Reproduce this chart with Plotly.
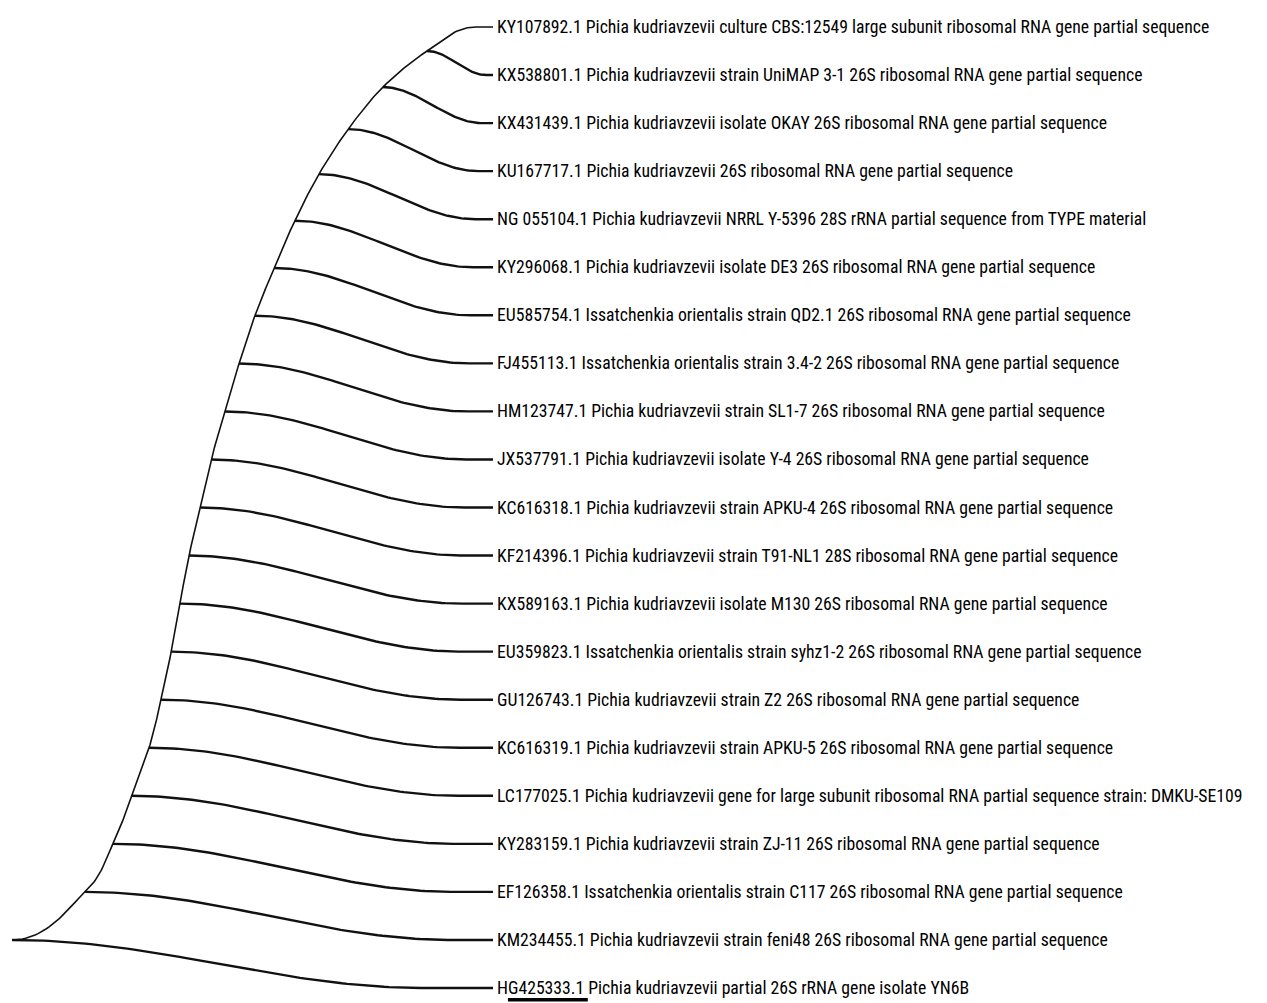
import numpy as np
import plotly.graph_objects as go

# ---- data -------------------------------------------------------------
# leaf labels, top to bottom
leaf_labels = [
    "KY107892.1 Pichia kudriavzevii culture CBS:12549 large subunit ribosomal RNA gene partial sequence",
    "KX538801.1 Pichia kudriavzevii strain UniMAP 3-1 26S ribosomal RNA gene partial sequence",
    "KX431439.1 Pichia kudriavzevii isolate OKAY 26S ribosomal RNA gene partial sequence",
    "KU167717.1 Pichia kudriavzevii 26S ribosomal RNA gene partial sequence",
    "NG 055104.1 Pichia kudriavzevii NRRL Y-5396 28S rRNA partial sequence from TYPE material",
    "KY296068.1 Pichia kudriavzevii isolate DE3 26S ribosomal RNA gene partial sequence",
    "EU585754.1 Issatchenkia orientalis strain QD2.1 26S ribosomal RNA gene partial sequence",
    "FJ455113.1 Issatchenkia orientalis strain 3.4-2 26S ribosomal RNA gene partial sequence",
    "HM123747.1 Pichia kudriavzevii strain SL1-7 26S ribosomal RNA gene partial sequence",
    "JX537791.1 Pichia kudriavzevii isolate Y-4 26S ribosomal RNA gene partial sequence",
    "KC616318.1 Pichia kudriavzevii strain APKU-4 26S ribosomal RNA gene partial sequence",
    "KF214396.1 Pichia kudriavzevii strain T91-NL1 28S ribosomal RNA gene partial sequence",
    "KX589163.1 Pichia kudriavzevii isolate M130 26S ribosomal RNA gene partial sequence",
    "EU359823.1 Issatchenkia orientalis strain syhz1-2 26S ribosomal RNA gene partial sequence",
    "GU126743.1 Pichia kudriavzevii strain Z2 26S ribosomal RNA gene partial sequence",
    "KC616319.1 Pichia kudriavzevii strain APKU-5 26S ribosomal RNA gene partial sequence",
    "LC177025.1 Pichia kudriavzevii gene for large subunit ribosomal RNA partial sequence strain: DMKU-SE109",
    "KY283159.1 Pichia kudriavzevii strain ZJ-11 26S ribosomal RNA gene partial sequence",
    "EF126358.1 Issatchenkia orientalis strain C117 26S ribosomal RNA gene partial sequence",
    "KM234455.1 Pichia kudriavzevii strain feni48 26S ribosomal RNA gene partial sequence",
    "HG425333.1 Pichia kudriavzevii partial 26S rRNA gene isolate YN6B",
]

# depth of internal nodes (ladder tree), from the cherry (leaves 0,1) down to the root
node_depth = [0.863, 0.771, 0.699, 0.638, 0.588, 0.545, 0.505, 0.472, 0.443, 0.414,
              0.391, 0.368, 0.349, 0.331, 0.310, 0.285, 0.249, 0.210, 0.152, 0.0]

leaf_depth = 1.0          # tips aligned
scale_bar_length = 0.166  # tree units

# ---- layout geometry ----------------------------------------------------
W, H = 1267, 1003
x_range = [-0.02495, 2.609]
y_range = [20.312, -0.562]
px_x = W / (x_range[1] - x_range[0])
px_y = H / (y_range[0] - y_range[1])

n_leaf = len(leaf_labels)
leaf_y = np.arange(n_leaf, dtype=float)

# node y = mean of children y (ladder: node k joins node k-1 and leaf k+1)
node_y = []
for k in range(len(node_depth)):
    if k == 0:
        node_y.append((leaf_y[0] + leaf_y[1]) / 2)
    else:
        node_y.append((node_y[k - 1] + leaf_y[k + 1]) / 2)
node_y = np.array(node_y)
node_x = np.array(node_depth)

LINE = "#111111"


def sigmoid_branch(x0, y0, x1, y1, frac=0.9, n=80):
    xe = x0 + frac * (x1 - x0)
    t = np.linspace(0, 1, n)
    xs = x0 + t * (xe - x0)
    ys = y0 + (y1 - y0) * (1 - np.cos(np.pi * t)) / 2
    return np.append(xs, x1), np.append(ys, y1)


fig = go.Figure()

# leaf branches (leaf 1..n-1); leaf k+1 hangs from node k; last leaf from root
bx, by = [], []
for k in range(len(node_depth)):
    leaf = k + 1
    xs, ys = sigmoid_branch(node_x[k], node_y[k], leaf_depth, leaf_y[leaf],
                            frac=0.9 if k < len(node_depth) - 1 else 0.86)
    bx += list(xs) + [None]
    by += list(ys) + [None]
fig.add_trace(go.Scatter(x=bx, y=by, mode="lines",
                         line=dict(color=LINE, width=2.4),
                         hoverinfo="skip", showlegend=False))

# spine: root -> nodes -> top leaf, smooth Hermite curve (in pixel space)
sp_x = np.concatenate([node_x[::-1], [leaf_depth - 0.035]])
sp_y = np.concatenate([node_y[::-1], [leaf_y[0]]])
P = np.column_stack([sp_x * px_x, sp_y * px_y])
m = len(P)
T = np.zeros_like(P)
for i in range(1, m - 1):
    T[i] = (P[i + 1] - P[i - 1]) / 2
T[0] = np.array([np.linalg.norm(P[1] - P[0]) * 1.2, 0.0])
T[-1] = np.array([np.linalg.norm(P[-1] - P[-2]) * 1.2, 0.0])
cx, cy = [], []
s = np.linspace(0, 1, 30)
h00 = 2 * s**3 - 3 * s**2 + 1
h10 = s**3 - 2 * s**2 + s
h01 = -2 * s**3 + 3 * s**2
h11 = s**3 - s**2
for i in range(m - 1):
    seg = (np.outer(h00, P[i]) + np.outer(h10, T[i]) +
           np.outer(h01, P[i + 1]) + np.outer(h11, T[i + 1]))
    cx += list(seg[:, 0] / px_x)
    cy += list(seg[:, 1] / px_y)
cx.append(leaf_depth)
cy.append(leaf_y[0])
fig.add_trace(go.Scatter(x=cx, y=cy, mode="lines",
                         line=dict(color=LINE, width=1.6),
                         hoverinfo="skip", showlegend=False))

# scale bar
sb_x0 = leaf_depth + 0.031
fig.add_trace(go.Scatter(x=[sb_x0, sb_x0 + scale_bar_length],
                         y=[leaf_y[-1] + 0.245, leaf_y[-1] + 0.245],
                         mode="lines", line=dict(color="#000000", width=3.5),
                         hoverinfo="skip", showlegend=False))

# labels
for lab, y in zip(leaf_labels, leaf_y):
    fig.add_annotation(x=leaf_depth, y=y, text=lab, showarrow=False,
                       xanchor="left", yanchor="middle", xshift=2, yshift=0,
                       font=dict(family="Roboto Condensed, Liberation Sans Narrow, Arial Narrow, sans-serif",
                                 size=17.7, color="#000000"))

fig.update_layout(
    width=W, height=H,
    margin=dict(l=0, r=0, t=0, b=0),
    paper_bgcolor="white", plot_bgcolor="white",
    xaxis=dict(range=x_range, visible=False, showgrid=False, zeroline=False),
    yaxis=dict(range=y_range, visible=False, showgrid=False, zeroline=False),
    showlegend=False,
)

fig.write_html("out.html",
               post_script="document.body.style.margin='0px';document.body.style.overflow='hidden';",
               config={"displayModeBar": False, "staticPlot": True})
